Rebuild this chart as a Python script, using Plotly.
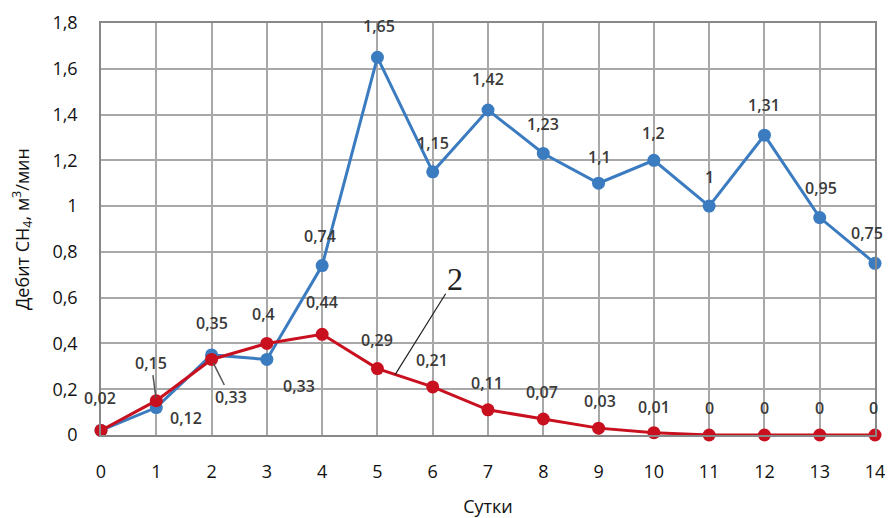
import plotly.graph_objects as go

days = list(range(15))
series1 = [0.02, 0.12, 0.35, 0.33, 0.74, 1.65, 1.15, 1.42, 1.23, 1.1, 1.2, 1.0, 1.31, 0.95, 0.75]
series2 = [0.02, 0.15, 0.33, 0.40, 0.44, 0.29, 0.21, 0.11, 0.07, 0.03, 0.01, 0, 0, 0, 0]
y_ticks = [0, 0.2, 0.4, 0.6, 0.8, 1.0, 1.2, 1.4, 1.6, 1.8]
x_title = "Сутки"
y_title = "Дебит CH<sub>4</sub>, м<sup>3</sup>/мин"
curve_label = "2"

BLUE = "#3b7bc0"
RED = "#c8101f"
LABEL_FONT = dict(family="Open Sans", size=16, color="#3a3a3a", weight=600)


def fmt(v):
    return f"{v:g}".replace(".", ",")


fig = go.Figure()
fig.add_trace(go.Scatter(x=days, y=series1, mode="lines+markers",
                         line=dict(color=BLUE, width=3),
                         marker=dict(color=BLUE, size=13), showlegend=False,
                         cliponaxis=False))
fig.add_trace(go.Scatter(x=days, y=series2, mode="lines+markers",
                         line=dict(color=RED, width=3),
                         marker=dict(color=RED, size=13), showlegend=False,
                         cliponaxis=False))

# label offsets (pixels, dx right / dy down) for series 1 and series 2
off1 = {0: (0, 0), 1: (30, 10), 2: (0, -32), 3: (32, 27), 4: (-2, -30), 5: (2, -31),
        6: (0, -29), 7: (0, -31), 8: (0, -29), 9: (1, -26), 10: (0, -27), 11: (0, -29),
        12: (0, -30), 13: (1, -30), 14: (-8, -30)}
off2 = {0: (-1, -32), 1: None, 2: None, 3: (-3, -29), 4: (0, -32), 5: (0, -29),
        6: (-1, -27), 7: (-1, -27), 8: (-1, -27), 9: (1, -27), 10: (0, -26), 11: (0, -27),
        12: (0, -27), 13: (0, -27), 14: (-2, -27)}

for i, v in enumerate(series1):
    if i == 0:
        continue
    dx, dy = off1[i]
    fig.add_annotation(x=days[i], y=v, text=fmt(v), showarrow=False,
                       xshift=dx, yshift=-dy, font=LABEL_FONT)
for i, v in enumerate(series2):
    o = off2[i]
    if o is None:
        continue
    dx, dy = o
    fig.add_annotation(x=days[i], y=v, text=fmt(v), showarrow=False,
                       xshift=dx, yshift=-dy, font=LABEL_FONT)

# labels with leader lines
fig.add_annotation(x=days[1], y=series2[1], text=fmt(series2[1]), showarrow=True,
                   arrowhead=0, arrowwidth=1.5, arrowcolor="#555555", ax=-5, ay=-38,
                   standoff=3, font=LABEL_FONT)
fig.add_annotation(x=days[2], y=series2[2], text=fmt(series2[2]), showarrow=True,
                   arrowhead=0, arrowwidth=1.5, arrowcolor="#555555", ax=19, ay=38,
                   standoff=4, font=LABEL_FONT)

# curve number
fig.add_annotation(x=5.32, y=0.264, text=curve_label, showarrow=True,
                   arrowhead=0, arrowwidth=1.2, arrowcolor="#222222", ax=60, ay=-96,
                   standoff=0, font=dict(family="Liberation Serif", size=32, color="#222222"))

fig.update_layout(
    width=885, height=510,
    margin=dict(l=93, r=18, t=15, b=83, autoexpand=False),
    paper_bgcolor="white", plot_bgcolor="white",
    separators=", ",
    font=dict(family="Open Sans", color="#111111"),
)
fig.update_xaxes(range=[0, 14], tickmode="array", tickvals=days,
                 ticktext=[str(d) for d in days], automargin=False,
                 showgrid=True, gridcolor="#a8a8a8", gridwidth=1.5,
                 showline=True, linecolor="#888888", linewidth=1.5, mirror=True,
                 zeroline=False, ticks="", ticklabelstandoff=20,
                 tickfont=dict(size=18, color="#111111"),
                 title=dict(text=x_title, font=dict(size=18, color="#111111"), standoff=22))
fig.update_yaxes(range=[0, 1.8], tickmode="array", tickvals=y_ticks,
                 ticktext=[fmt(t) for t in y_ticks], automargin=False,
                 showgrid=True, gridcolor="#a8a8a8", gridwidth=1.5,
                 showline=True, linecolor="#888888", linewidth=1.5, mirror=True,
                 zeroline=False, ticks="", ticklabelstandoff=18,
                 tickfont=dict(size=18, color="#111111"),
                 title=dict(text=y_title, font=dict(size=18, color="#111111"), standoff=22))

fig.write_html("out.html")
